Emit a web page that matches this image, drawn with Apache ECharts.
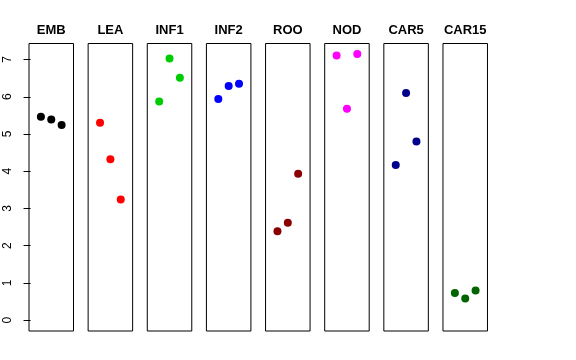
<!DOCTYPE html>
<html>
<head>
<meta charset="utf-8">
<script src="https://cdn.jsdelivr.net/npm/echarts@6/dist/echarts.min.js"></script>
<style>html,body{margin:0;padding:0;background:#fff;}#c{width:576px;height:360px;}</style>
</head>
<body>
<div id="c"></div>
<script>
const categories = ['EMB','LEA','INF1','INF2','ROO','NOD','CAR5','CAR15'];
const EMB   = [5.46, 5.39, 5.24];
const LEA   = [5.30, 4.32, 3.24];
const INF1  = [5.87, 7.03, 6.51];
const INF2  = [5.94, 6.29, 6.35];
const ROO   = [2.39, 2.62, 3.93];
const NOD   = [7.11, 5.68, 7.15];
const CAR5  = [4.17, 6.10, 4.80];
const CAR15 = [0.73, 0.58, 0.80];
const seriesValues = [EMB, LEA, INF1, INF2, ROO, NOD, CAR5, CAR15];
const colors = ['#000000','#FF0000','#00CD00','#0000FF','#8B0000','#FF00FF','#00008B','#006400'];
const yTicks = [0,1,2,3,4,5,6,7];
const replicate = [1,2,3];

const grids=[], xAxes=[], yAxes=[], series=[];
const font = '"Liberation Sans", Arial, sans-serif';
categories.forEach((cat,i)=>{
  grids.push({left: 29 + i*59.14, top: 43.5, width: 44.5, height: 287.5,
    show: true, borderColor: '#000', borderWidth: 1, backgroundColor: 'transparent'});
  xAxes.push({gridIndex:i, type:'value', min:-0.15, max:4.15, position:'top',
    axisLine:{show:false}, axisTick:{show:false}, axisLabel:{show:false}, splitLine:{show:false},
    name: cat, nameLocation:'middle', nameGap: 7,
    nameTextStyle:{fontFamily:font, fontWeight:'bold', fontSize:13, color:'#000'}});
  yAxes.push({gridIndex:i, type:'value', min:-0.29, max:7.43,
    axisLine:{show:false}, splitLine:{show:false},
    axisTick:{show: i===0, length:7, lineStyle:{color:'#000'}, customValues: yTicks},
    axisLabel:{show: i===0, rotate:90, margin:15, fontFamily:font, fontSize:12, color:'#000', customValues: yTicks}});
  series.push({type:'scatter', xAxisIndex:i, yAxisIndex:i, symbolSize:8,
    itemStyle:{color:colors[i], opacity:1},
    data: replicate.map((r,k)=>[r, seriesValues[i][k]])});
});

const chart = echarts.init(document.getElementById('c'), null, {renderer:'canvas'});
chart.setOption({animation:false, grid:grids, xAxis:xAxes, yAxis:yAxes, series:series});
</script>
</body>
</html>
